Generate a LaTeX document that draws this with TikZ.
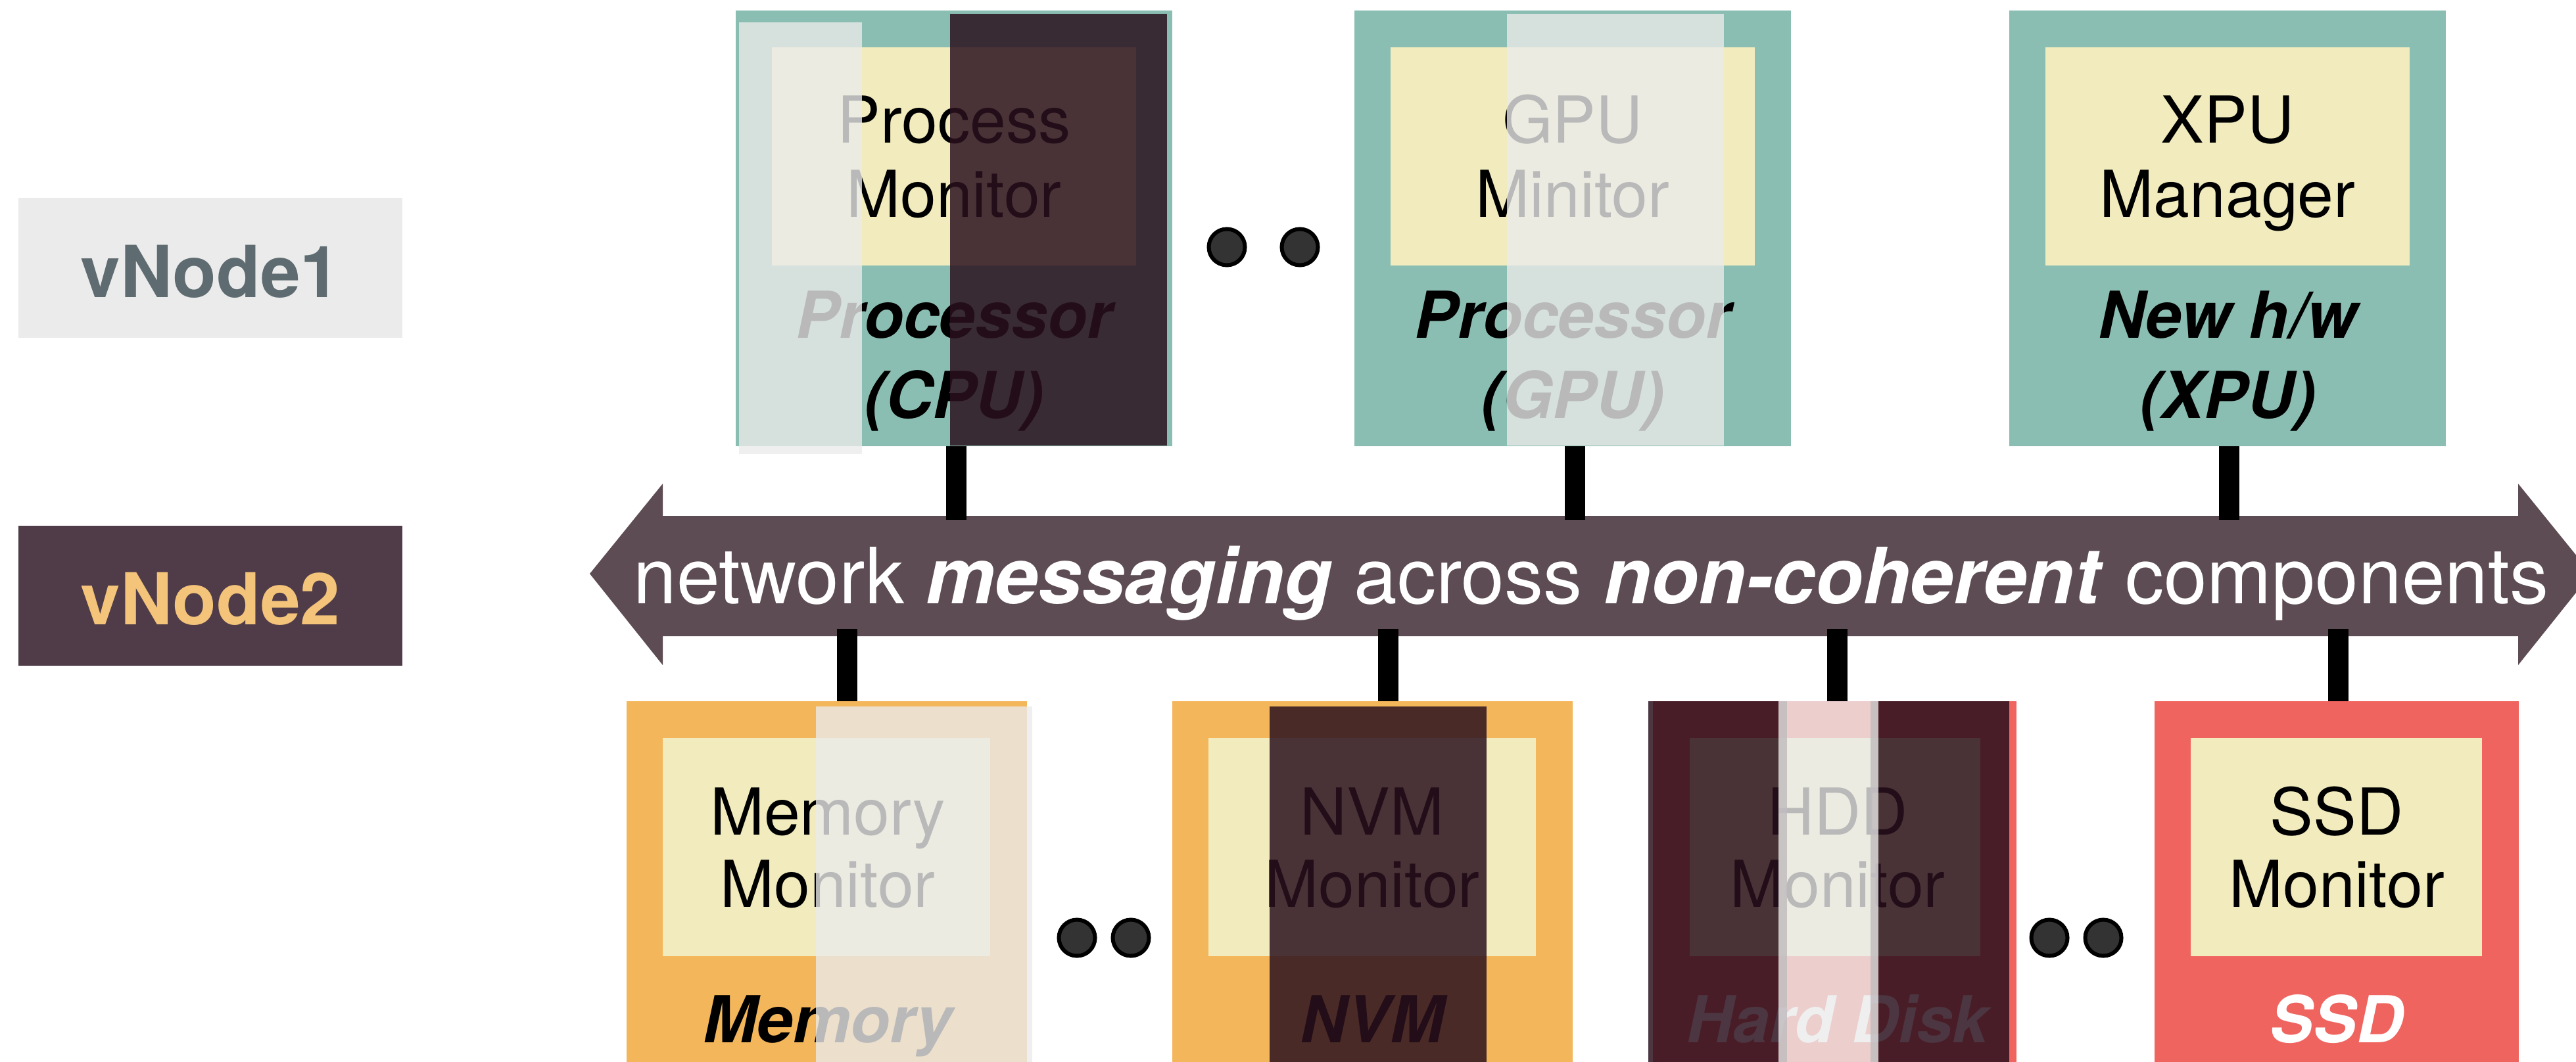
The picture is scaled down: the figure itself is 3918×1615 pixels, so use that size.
\documentclass[tikz,border=0pt]{standalone}
\usepackage{fontspec}
\setmainfont{TeX Gyre Heros}
\definecolor{cTeal}{RGB}{139,190,178}
\definecolor{cYel}{RGB}{241,235,189}
\definecolor{cOrange}{RGB}{243,182,91}
\definecolor{cRed}{RGB}{240,100,95}
\definecolor{cBand}{RGB}{93,76,83}
\definecolor{cVOneBg}{RGB}{235,235,235}
\definecolor{cVOneFg}{RGB}{94,107,112}
\definecolor{cVTwoBg}{RGB}{79,60,72}
\definecolor{cVTwoFg}{RGB}{244,196,122}
\definecolor{cDark}{RGB}{42,16,29}
\definecolor{cLight}{RGB}{235,235,235}
\definecolor{cDot}{RGB}{51,51,51}
\newcommand\FontMon{\fontsize{28}{32}\selectfont}
\newcommand\FontLab{\fontsize{28}{32}\selectfont\bfseries\itshape}
\newcommand\FontBand{\fontsize{33.6}{40}\selectfont}
\newcommand\FontVn{\fontsize{31}{36}\selectfont\bfseries}
\begin{document}
\begin{tikzpicture}[x=0.01cm,y=-0.01cm,
  blk/.style={inner sep=0pt, outer sep=0pt, anchor=north west, draw=none},
  topbox/.style={blk, fill=cTeal, minimum width=6.64cm, minimum height=6.63cm},
  topmon/.style={blk, fill=cYel, minimum width=5.54cm, minimum height=3.32cm},
  botbox/.style={blk, minimum height=6.63cm},
  botmon/.style={blk, fill=cYel, minimum height=3.32cm},
  montxt/.style={anchor=base, inner sep=0pt, font=\FontMon},
  labtxt/.style={anchor=base, inner sep=0pt, font=\FontLab},
  conn/.style={line width=0.31cm, draw=black},
  ellipsisdot/.style={circle, draw=black, fill=cDot, line width=0.06cm, minimum size=0.55cm, inner sep=0pt},
  lightov/.style={fill=cLight, fill opacity=0.79},
  darkov/.style={fill=cDark, fill opacity=0.84},
]
\useasboundingbox (0,0) rectangle (3918,1615);
\clip (0,0) rectangle (3918,1615);

% legend
\node[blk, fill=cVOneBg, minimum width=5.84cm, minimum height=2.13cm] (v1box) at (28,301) {};
\node[anchor=base, inner sep=0pt, font=\FontVn, text=cVOneFg] (v1txt) at (320,452) {vNode1};
\node[blk, fill=cVTwoBg, minimum width=5.84cm, minimum height=2.13cm] (v2box) at (28,800) {};
\node[anchor=base, inner sep=0pt, font=\FontVn, text=cVTwoFg] (v2txt) at (320,950) {vNode2};

% messaging band
\fill[cBand] (897,873) -- (1008,736) -- (1008,785) -- (3830,785) -- (3830,736) -- (3941,873)
  -- (3830,1012) -- (3830,968) -- (1008,968) -- (1008,1012) -- cycle;
\node[anchor=base, inner sep=0pt, font=\FontBand, text=white] (band) at (2420,918)
  {network \textbf{\textit{messaging}} across \textbf{\textit{non-coherent}} components};

% top components
\node[topbox] (cpu) at (1119,16) {};
\node[topmon] (cpumon) at (1174,72) {};
\node[montxt] (cpum1) at (1451,217) {Process};
\node[montxt] (cpum2) at (1451,330) {Monitor};
\node[labtxt] (cpul1) at (1451,514) {Processor};
\node[labtxt] (cpul2) at (1451,636) {(CPU)};

\node[topbox] (gpu) at (2060,16) {};
\node[topmon] (gpumon) at (2115,72) {};
\node[montxt] (gpum1) at (2392,217) {GPU};
\node[montxt] (gpum2) at (2392,330) {Minitor};
\node[labtxt] (gpul1) at (2392,514) {Processor};
\node[labtxt] (gpul2) at (2392,636) {(GPU)};

\node[topbox] (xpu) at (3056,16) {};
\node[topmon] (xpumon) at (3111,72) {};
\node[montxt] (xpum1) at (3388,217) {XPU};
\node[montxt] (xpum2) at (3388,330) {Manager};
\node[labtxt] (xpul1) at (3388,514) {New h/w};
\node[labtxt] (xpul2) at (3388,636) {(XPU)};

% bottom components
\node[botbox, fill=cOrange, minimum width=6.09cm] (mem) at (953,1067) {};
\node[botmon, minimum width=4.98cm] (memmon) at (1008,1123) {};
\node[montxt] (memm1) at (1259,1270) {Memory};
\node[montxt] (memm2) at (1259,1380) {Monitor};
\node[labtxt] (meml) at (1259,1586) {Memory};

\node[botbox, fill=cOrange, minimum width=6.09cm] (nvm) at (1783,1067) {};
\node[botmon, minimum width=4.98cm] (nvmmon) at (1838,1123) {};
\node[montxt] (nvmm1) at (2087,1270) {NVM};
\node[montxt] (nvmm2) at (2087,1380) {Monitor};
\node[labtxt] (nvml) at (2087,1586) {NVM};

\node[botbox, fill=cRed, minimum width=5.53cm] (hdd) at (2514,1067) {};
\node[botmon, minimum width=4.42cm] (hddmon) at (2570,1123) {};
\node[montxt] (hddm1) at (2795,1270) {HDD};
\node[montxt] (hddm2) at (2795,1380) {Monitor};
\node[labtxt, text=white] (hddl) at (2795,1586) {Hard Disk};

\node[botbox, fill=cRed, minimum width=5.54cm] (ssd) at (3277,1067) {};
\node[botmon, minimum width=4.43cm] (ssdmon) at (3332,1123) {};
\node[montxt] (ssdm1) at (3554,1270) {SSD};
\node[montxt] (ssdm2) at (3554,1380) {Monitor};
\node[labtxt, text=white] (ssdl) at (3554,1586) {SSD};

% connectors
\coordinate (t1) at (1454,791);
\coordinate (t2) at (2395,791);
\coordinate (t3) at (3390,791);
\draw[conn] (cpu.south -| t1) -- (t1);
\draw[conn] (gpu.south -| t2) -- (t2);
\draw[conn] (xpu.south -| t3) -- (t3);
\coordinate (b1) at (1288,957);
\coordinate (b2) at (2111,957);
\coordinate (b3) at (2794,957);
\coordinate (b4) at (3556,957);
\draw[conn] (b1) -- (b1 |- mem.north);
\draw[conn] (b2) -- (b2 |- nvm.north);
\draw[conn] (b3) -- (b3 |- hdd.north);
\draw[conn] (b4) -- (b4 |- ssd.north);

% ellipsis dots
\node[ellipsisdot] (d1) at (1866,376) {};
\node[ellipsisdot] (d2) at (1977,376) {};
\node[ellipsisdot] (d3) at (1638,1427) {};
\node[ellipsisdot] (d4) at (1720,1427) {};
\node[ellipsisdot] (d5) at (3117,1427) {};
\node[ellipsisdot] (d6) at (3199,1427) {};

% vNode overlays
\fill[lightov] (1124,34) rectangle (1311,691);
\fill[darkov] (1445,21) rectangle (1775,678);
\fill[lightov] (2292,21) rectangle (2622,678);
\fill[lightov] (1241,1075) rectangle (1570,1700);
\fill[darkov] (1931,1075) rectangle (2261,1700);
\fill[darkov] (2507,1067) rectangle (2718,1700);
\fill[darkov] (2845,1067) rectangle (3056,1700);
\fill[lightov] (2705,1067) rectangle (2857,1700);
\end{tikzpicture}
\end{document}
